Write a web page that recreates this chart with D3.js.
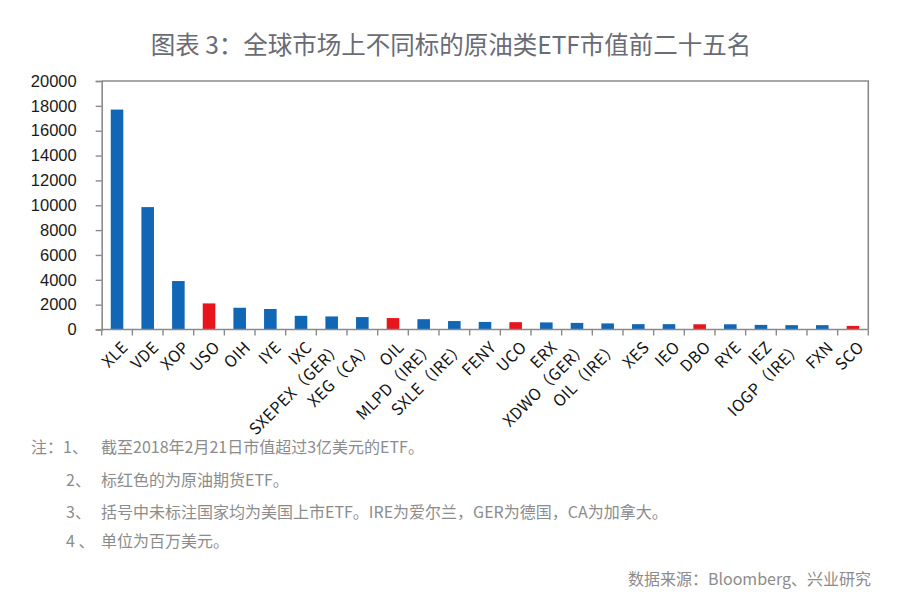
<!DOCTYPE html>
<html><head><meta charset="utf-8">
<script src="https://cdn.jsdelivr.net/npm/d3@7"></script>
<style>
body{margin:0;background:#fff;}
svg{display:block;}
</style></head>
<body>
<svg id="c" width="900" height="602"></svg>
<script>
const categories = ["XLE","VDE","XOP","USO","OIH","IYE","IXC","SXEPEX（GER）","XEG（CA）","OIL","MLPD（IRE）","SXLE（IRE）","FENY","UCO","ERX","XDWO（GER）","OIL（IRE）","XES","IEO","DBO","RYE","IEZ","IOGP（IRE）","FXN","SCO"];
const values = [17700,9850,3900,2100,1750,1650,1100,1050,1000,920,830,680,610,590,570,530,490,430,430,420,420,370,350,350,290];
const futures = ["USO","OIL","UCO","DBO","SCO"];
const yTicks = [0,2000,4000,6000,8000,10000,12000,14000,16000,18000,20000];
const title = "图表 3：全球市场上不同标的原油类ETF市值前二十五名";
const notes = [
  ["注：1、", "截至2018年2月21日市值超过3亿美元的ETF。"],
  ["2、", "标红色的为原油期货ETF。"],
  ["3、", "括号中未标注国家均为美国上市ETF。IRE为爱尔兰，GER为德国，CA为加拿大。"],
  ["4 、", "单位为百万美元。"]
];
const source = "数据来源：Bloomberg、兴业研究";

const svg = d3.select("#c");
const L = 101.7, R = 868.3, T = 81, B = 329.5;
const x = d3.scaleBand().domain(categories).range([L, R]).paddingInner(0.59).paddingOuter(0.295);
const xb = d3.scaleBand().domain(categories).range([L, R]);
const y = d3.scaleLinear().domain([0, 20000]).range([B, T]);
const axisColor = "#8a8a8a";

svg.append("text").attr("x", 451).attr("y", 54).attr("text-anchor", "middle")
  .attr("font-family", "'Noto Sans CJK SC', sans-serif").attr("font-size", 24.5)
  .attr("fill", "#6a6c75").text(title);

// bars
svg.append("g").selectAll("rect").data(categories).join("rect")
  .attr("x", d => x(d)).attr("width", x.bandwidth())
  .attr("y", (d, i) => y(values[i])).attr("height", (d, i) => B - y(values[i]))
  .attr("fill", d => futures.includes(d) ? "#e8151c" : "#1166b5");

// y axis
const ya = svg.append("g").attr("transform", `translate(${L},0)`)
  .call(d3.axisLeft(y).tickValues(yTicks).tickSize(6).tickPadding(19).tickFormat(d3.format("d")));
ya.select(".domain").attr("stroke", axisColor).attr("stroke-width", 1.6);
ya.selectAll(".tick line").attr("stroke", axisColor).attr("stroke-width", 1.4);
ya.selectAll(".tick text").attr("font-family", "Arial, 'Liberation Sans', sans-serif").attr("font-size", 16.5).attr("fill", "#1a1a1a");

// frame top/right
svg.append("path").attr("d", `M${L},${T}H${R}V${B}`).attr("fill", "none").attr("stroke", axisColor).attr("stroke-width", 1.6);

// x axis with ticks at boundaries
const xg = svg.append("g");
xg.append("line").attr("x1", L).attr("x2", R).attr("y1", B).attr("y2", B).attr("stroke", axisColor).attr("stroke-width", 1.6);
xg.selectAll("line.t").data(categories.concat(["_end"])).join("line").attr("class", "t")
  .attr("x1", (d, i) => L + i * xb.step()).attr("x2", (d, i) => L + i * xb.step())
  .attr("y1", B).attr("y2", B + 6).attr("stroke", axisColor).attr("stroke-width", 1.4);
xg.selectAll("text").data(categories).join("text")
  .attr("transform", d => `translate(${xb(d) + xb.bandwidth() / 2 + 4},${B + 11}) rotate(-45)`)
  .attr("text-anchor", "end").attr("dy", "0.7em")
  .attr("font-family", "'Noto Sans CJK SC', sans-serif").attr("font-size", 16).attr("letter-spacing", 0.4)
  .attr("fill", "#111")
  .text(d => d);

// notes
const ng = svg.append("g").attr("font-family", "'Noto Sans CJK SC', sans-serif").attr("font-size", 16).attr("fill", "#8c8c8c");
const lineY = [453, 486, 518, 547];
notes.forEach((n, i) => {
  ng.append("text").attr("x", i === 0 ? 31 : 66).attr("y", lineY[i]).text(n[0]);
  ng.append("text").attr("x", 101).attr("y", lineY[i]).text(n[1]);
});
svg.append("text").attr("x", 871).attr("y", 585).attr("text-anchor", "end")
  .attr("font-family", "'Noto Sans CJK SC', sans-serif").attr("font-size", 16).attr("fill", "#8c8c8c").text(source);
</script>
</body></html>
